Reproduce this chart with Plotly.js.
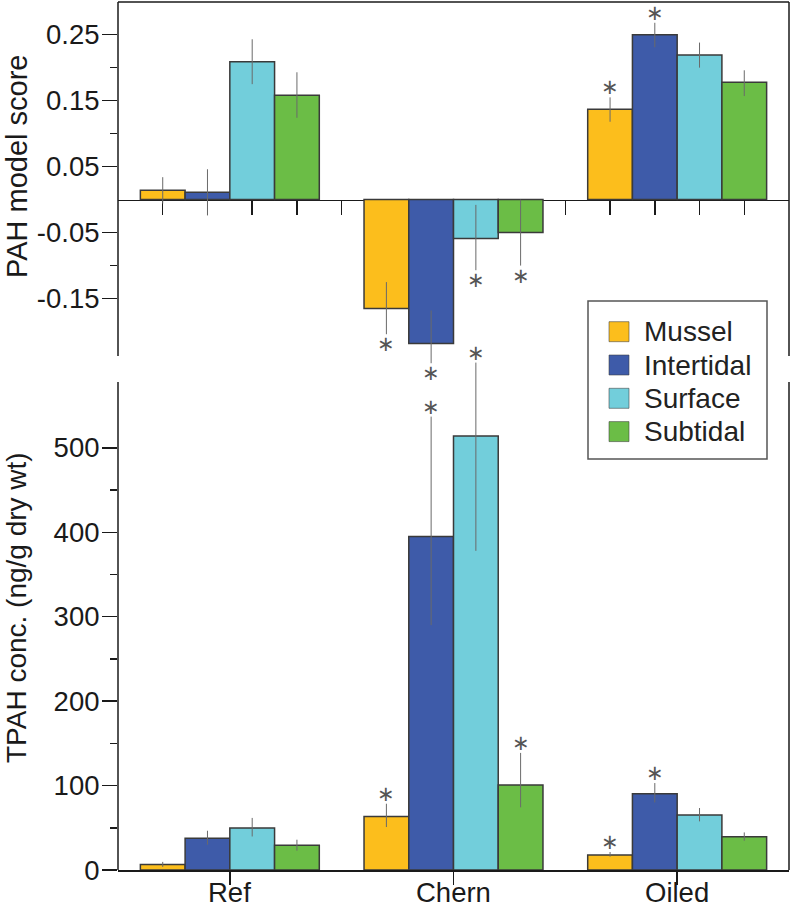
<!DOCTYPE html>
<html>
<head>
<meta charset="utf-8">
<script src="https://cdn.plot.ly/plotly-3.0.1.min.js"></script>
<style>
  html, body { margin: 0; padding: 0; background: #fff; }
  #chart { width: 792px; height: 909px; }
</style>
</head>
<body>
<div id="chart"></div>
<script>
// ---------- data ----------
const categories = ['Ref', 'Chern', 'Oiled'];
const seriesNames = ['Mussel', 'Intertidal', 'Surface', 'Subtidal'];
const seriesColors = ['#FCBE1C', '#3E5BA9', '#72CEDB', '#6BBD46'];

// PAH model score (top panel)
const pahMussel = [0.014, -0.165, 0.137];
const pahIntertidal = [0.011, -0.218, 0.250];
const pahSurface = [0.209, -0.059, 0.219];
const pahSubtidal = [0.158, -0.050, 0.178];
const pahMusselErrPlus = [0.020, 0.040, 0.018];
const pahMusselErrMinus = [0.020, 0.039, 0.019];
const pahIntertidalErrPlus = [0.035, 0.050, 0.018];
const pahIntertidalErrMinus = [0.035, 0.030, 0.019];
const pahSurfaceErrPlus = [0.034, 0.051, 0.019];
const pahSurfaceErrMinus = [0.034, 0.048, 0.019];
const pahSubtidalErrPlus = [0.035, 0.050, 0.018];
const pahSubtidalErrMinus = [0.034, 0.050, 0.021];
const pahMusselSig = [false, true, true];
const pahIntertidalSig = [false, true, true];
const pahSurfaceSig = [false, true, false];
const pahSubtidalSig = [false, true, false];

// TPAH concentration (bottom panel)
const tpahMussel = [6.6, 63.5, 17.8];
const tpahIntertidal = [37.5, 395, 90.4];
const tpahSurface = [49.7, 514, 65.2];
const tpahSubtidal = [29.2, 100.7, 39.5];
const tpahMusselErrPlus = [3, 15, 3.5];
const tpahMusselErrMinus = [3, 12.6, 2];
const tpahIntertidalErrPlus = [9, 142, 12.6];
const tpahIntertidalErrMinus = [7.5, 105, 10.4];
const tpahSurfaceErrPlus = [12, 87, 8.2];
const tpahSurfaceErrMinus = [10, 136, 7.6];
const tpahSubtidalErrPlus = [6.7, 38, 5];
const tpahSubtidalErrMinus = [6.3, 26.5, 4.8];
const tpahMusselSig = [false, true, true];
const tpahIntertidalSig = [false, true, true];
const tpahSurfaceSig = [false, true, false];
const tpahSubtidalSig = [false, true, false];

// tick labels
const pahTickVals = [0.25, 0.15, 0.05, -0.05, -0.15];
const pahTickText = ['0.25', '0.15', '0.05', '-0.05', '-0.15'];
const pahMinorVals = [0.2, 0.1, -0.1];
const tpahTickVals = [0, 100, 200, 300, 400, 500];
const tpahTickText = ['0', '100', '200', '300', '400', '500'];
const tpahMinorVals = [50, 150, 250, 350, 450];

// ---------- layout geometry ----------
const W = 792, H = 909;
const M = { l: 118, r: 3, t: 2, b: 39 };
const plotH = H - M.t - M.b;
const plotW = W - M.l - M.r;
const pyToPaper = py => (H - M.b - py) / plotH;
const pxToPaper = px => (px - M.l) / plotW;

// visible frames (px): top panel 2..356, bottom panel 382..870
const TOP_FRAME = [2, 356], BOT_FRAME = [382, 870];
const TOP_PPU = 659.8, TOP_MAX = 0.2995;
const BOT_PPU = 0.8443;
// extended (overlapping) subplot areas so that marks in the gap are kept
const TOP_AREA_BOTTOM = 384, BOT_AREA_TOP = 340;
const topDomain = [pyToPaper(TOP_AREA_BOTTOM), 1];
const botDomain = [0, pyToPaper(BOT_AREA_TOP)];
const topRange = [TOP_MAX - (TOP_AREA_BOTTOM - TOP_FRAME[0]) / TOP_PPU, TOP_MAX];
const botRange = [0, (BOT_FRAME[1] - BOT_AREA_TOP) / BOT_PPU];
const zeroPos = topDomain[0] + (0 - topRange[0]) / (topRange[1] - topRange[0]) * (topDomain[1] - topDomain[0]);

const FONT = 'Liberation Sans, Arial, Helvetica, sans-serif';
const INK = '#1a1a1a';

const xIdx = categories.map((c, i) => i);
const pahSeries = [
  [pahMussel, pahMusselErrPlus, pahMusselErrMinus, pahMusselSig],
  [pahIntertidal, pahIntertidalErrPlus, pahIntertidalErrMinus, pahIntertidalSig],
  [pahSurface, pahSurfaceErrPlus, pahSurfaceErrMinus, pahSurfaceSig],
  [pahSubtidal, pahSubtidalErrPlus, pahSubtidalErrMinus, pahSubtidalSig]
];
const tpahSeries = [
  [tpahMussel, tpahMusselErrPlus, tpahMusselErrMinus, tpahMusselSig],
  [tpahIntertidal, tpahIntertidalErrPlus, tpahIntertidalErrMinus, tpahIntertidalSig],
  [tpahSurface, tpahSurfaceErrPlus, tpahSurfaceErrMinus, tpahSurfaceSig],
  [tpahSubtidal, tpahSubtidalErrPlus, tpahSubtidalErrMinus, tpahSubtidalSig]
];

const BARGAP = 0.2;
const nSeries = seriesNames.length;
const slotW = (1 - BARGAP) / nSeries;
const seriesOffset = s => (s - (nSeries - 1) / 2) * slotW;

function barTrace(vals, plus, minus, s, xa, ya) {
  return {
    type: 'bar', x: xIdx, y: vals, name: seriesNames[s],
    xaxis: xa, yaxis: ya, showlegend: false, cliponaxis: false,
    marker: { color: seriesColors[s], line: { color: '#3a3a3a', width: 1.5 } },
    error_y: { type: 'data', symmetric: false, array: plus, arrayminus: minus,
               color: '#6a6a6a', thickness: 1, width: 0 },
    hoverinfo: 'x+y'
  };
}

const traces = [];
pahSeries.forEach((d, s) => traces.push(barTrace(d[0], d[1], d[2], s, 'x', 'y')));
tpahSeries.forEach((d, s) => traces.push(barTrace(d[0], d[1], d[2], s, 'x2', 'y2')));

// significance asterisks
const STAR_FS = 21;
const STAR_GAP = 10;
const annotations = [];
function addStars(series, xa, ya) {
  series.forEach((d, s) => {
    d[3].forEach((sig, i) => {
      if (!sig) return;
      const v = d[0][i];
      const up = v >= 0;
      const end = up ? v + d[1][i] : v - d[2][i];
      annotations.push({
        xref: xa, yref: ya, x: i + seriesOffset(s), y: end,
        text: '\u2217', showarrow: false, xanchor: 'center', yanchor: 'middle',
        yshift: up ? STAR_GAP : -STAR_GAP, borderpad: 0,
        font: { family: 'DejaVu Sans, sans-serif', size: STAR_FS, color: '#555' }
      });
    });
  });
}
addStars(pahSeries, 'x', 'y');
addStars(tpahSeries, 'x2', 'y2');

// category labels under the lower panel
categories.forEach((c, i) => annotations.push({
  xref: 'x2', yref: 'paper', x: xIdx[i], y: pyToPaper(892.5),
  text: c, showarrow: false, xanchor: 'center', yanchor: 'middle', borderpad: 0,
  font: { family: FONT, size: 27.5, color: INK }
}));

// axis titles
annotations.push({
  xref: 'paper', yref: 'paper', x: pxToPaper(17), y: pyToPaper(166),
  text: 'PAH model score', textangle: -90, showarrow: false,
  xanchor: 'center', yanchor: 'middle', borderpad: 0,
  font: { family: FONT, size: 29, color: INK }
});
annotations.push({
  xref: 'paper', yref: 'paper', x: pxToPaper(17), y: pyToPaper(608),
  text: 'TPAH conc. (ng/g dry wt)', textangle: -90, showarrow: false,
  xanchor: 'center', yanchor: 'middle', borderpad: 0,
  font: { family: FONT, size: 28, color: INK }
});

const shapes = [];
const frameLine = { color: INK, width: 1.5 };
shapes.push({ type: 'line', xref: 'paper', yref: 'paper', x0: 0, x1: 1, y0: 1, y1: 1, line: frameLine });
[TOP_FRAME, BOT_FRAME].forEach(f => {
  [0, 1].forEach(xp => shapes.push({ type: 'line', xref: 'paper', yref: 'paper',
    x0: xp, x1: xp, y0: pyToPaper(f[0]), y1: pyToPaper(f[1]), line: frameLine }));
});

// manual legend
const LG = { x0: 588, x1: 767, y0: 301, y1: 459, sw0: 609, sw1: 629, tx: 642, row0: 331.7, rowH: 33.3 };
shapes.push({ type: 'rect', xref: 'paper', yref: 'paper',
  x0: pxToPaper(LG.x0), x1: pxToPaper(LG.x1), y0: pyToPaper(LG.y1), y1: pyToPaper(LG.y0),
  line: { color: '#555', width: 1.5 }, fillcolor: 'rgba(255,255,255,1)', layer: 'above' });
seriesNames.forEach((nm, s) => {
  const cy = LG.row0 + s * LG.rowH;
  shapes.push({ type: 'rect', xref: 'paper', yref: 'paper',
    x0: pxToPaper(LG.sw0), x1: pxToPaper(LG.sw1), y0: pyToPaper(cy + 10), y1: pyToPaper(cy - 10),
    line: { color: 'rgba(60,60,60,0.55)', width: 1 }, fillcolor: seriesColors[s], layer: 'above' });
  annotations.push({ xref: 'paper', yref: 'paper', x: pxToPaper(LG.tx), y: pyToPaper(cy),
    text: nm, showarrow: false, xanchor: 'left', yanchor: 'middle',
    font: { family: FONT, size: 28, color: '#222' } });
});

const topXTicks = [];
for (let g = 0; g < categories.length; g++) {
  for (let s = 0; s <= nSeries; s++) {
    const v = g + seriesOffset(s);
    if (v < 2.5 - 1e-9) topXTicks.push(+v.toFixed(4));
  }
}

const layout = {
  width: W, height: H,
  margin: M,
  paper_bgcolor: '#fff', plot_bgcolor: 'rgba(0,0,0,0)',
  barmode: 'group', bargap: BARGAP, bargroupgap: 0,
  showlegend: false,
  font: { family: FONT, size: 27, color: INK },
  xaxis: {
    anchor: 'free', position: zeroPos, domain: [0, 1],
    range: [-0.5, 2.5], showgrid: false, zeroline: false,
    showline: true, linecolor: INK, linewidth: 1.5,
    tickmode: 'array', tickvals: topXTicks, showticklabels: false,
    ticks: 'outside', ticklen: 14, tickwidth: 1.5, tickcolor: INK,
    layer: 'below traces', fixedrange: true
  },
  yaxis: {
    anchor: 'x', domain: topDomain, range: topRange,
    showgrid: false, zeroline: false, showline: false,
    tickmode: 'array', tickvals: pahTickVals, ticktext: pahTickText,
    ticks: 'outside', ticklen: 15, tickwidth: 1.5, tickcolor: INK,
    ticklabelstandoff: -3,
    tickfont: { family: FONT, size: 27.5, color: INK },
    minor: { tickmode: 'array', tickvals: pahMinorVals, ticks: 'outside', ticklen: 7, tickwidth: 1.5, tickcolor: INK, showgrid: false },
    fixedrange: true
  },
  xaxis2: {
    anchor: 'y2', domain: [0, 1], range: [-0.5, 2.5],
    showgrid: false, zeroline: false,
    showline: true, linecolor: INK, linewidth: 1.5,
    tickmode: 'array', tickvals: xIdx, showticklabels: false,
    ticks: 'outside', ticklen: 13, tickwidth: 1.5, tickcolor: INK,
    fixedrange: true
  },
  yaxis2: {
    anchor: 'x2', domain: botDomain, range: botRange,
    showgrid: false, zeroline: false, showline: false,
    tickmode: 'array', tickvals: tpahTickVals, ticktext: tpahTickText,
    ticks: 'outside', ticklen: 15, tickwidth: 1.5, tickcolor: INK,
    ticklabelstandoff: -3,
    tickfont: { family: FONT, size: 27.5, color: INK },
    minor: { tickmode: 'array', tickvals: tpahMinorVals, ticks: 'outside', ticklen: 7, tickwidth: 1.5, tickcolor: INK, showgrid: false },
    fixedrange: true
  },
  shapes: shapes,
  annotations: annotations
};

Plotly.newPlot('chart', traces, layout, { staticPlot: true, displayModeBar: false });
</script>
</body>
</html>
